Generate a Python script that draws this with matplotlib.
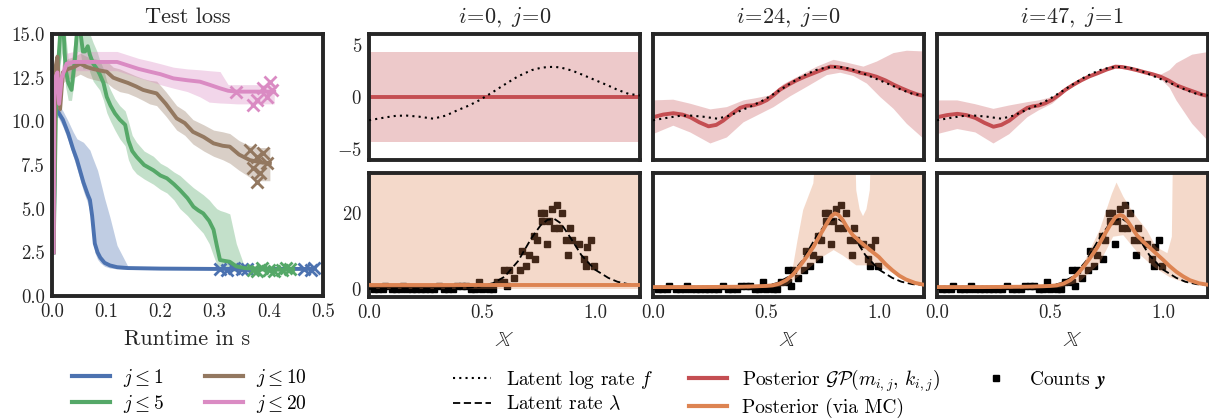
import numpy as np
import matplotlib
matplotlib.use("Agg")
import matplotlib.pyplot as plt
from matplotlib.lines import Line2D
from matplotlib.ticker import FormatStrFormatter

plt.rcParams.update({
    "font.family": "serif",
    "font.serif": ["cmr10"],
    "mathtext.fontset": "cm",
    "axes.formatter.use_mathtext": True,
    "axes.unicode_minus": True,
})

# ---------------- colours ----------------
C_BLUE, C_GREEN, C_BROWN, C_PINK = "#4C72B0", "#55A868", "#937860", "#DA8BC3"
C_RED, C_ORANGE = "#C44E52", "#DD8452"
DARK = "#262626"

# ---------------- Test loss data ----------------
blue_x = [0.003, 0.006, 0.012, 0.02, 0.03, 0.039, 0.046, 0.058, 0.066, 0.07, 0.074, 0.079, 0.084,
          0.089, 0.097, 0.107, 0.12, 0.14, 0.2, 0.3, 0.4, 0.48]
blue_y = [2.5, 10.8, 10.5, 10.1, 9.3, 8.4, 7.8, 6.5, 5.8, 5.5, 4.6, 3.0, 2.5,
          2.2, 1.9, 1.75, 1.65, 1.6, 1.57, 1.55, 1.55, 1.55]
blue_hi = [2.5, 11.2, 11.0, 10.6, 10.0, 9.4, 9.0, 8.8, 8.5, 8.35, 8.0, 7.6, 7.2,
           6.6, 5.6, 4.5, 2.9, 1.7, 1.62, 1.6, 1.6, 1.6]
blue_lo = [2.5, 10.3, 10.2, 9.7, 8.9, 8.0, 7.3, 6.0, 5.3, 4.8, 3.6, 2.5, 2.1,
           1.9, 1.7, 1.6, 1.55, 1.52, 1.5, 1.5, 1.5, 1.5]

green_x = [0.003, 0.008, 0.012, 0.016, 0.02, 0.025, 0.03, 0.036, 0.042, 0.047, 0.052, 0.057, 0.061,
           0.066, 0.07, 0.076, 0.083, 0.088, 0.095, 0.101, 0.108, 0.116, 0.125, 0.135, 0.141, 0.148,
           0.156, 0.17, 0.187, 0.2, 0.212, 0.225, 0.236, 0.25, 0.261, 0.27, 0.279, 0.29, 0.298,
           0.304, 0.31, 0.32, 0.328, 0.34, 0.355, 0.38, 0.41, 0.445]
green_y = [2.5, 12, 13.5, 15.5, 16, 13, 12.2, 11.8, 13.5, 15.5, 15.2, 14, 14.0,
           14.3, 13.8, 13.3, 13.0, 12.7, 12.2, 11.4, 10.9, 10.46, 10.1, 9.8, 8.9, 8.3,
           7.97, 7.5, 7.2, 6.9, 6.74, 6.4, 6.07, 5.6, 5.11, 4.9, 4.73, 4.3, 3.8,
           2.9, 2.06, 2.0, 1.96, 1.7, 1.6, 1.55, 1.52, 1.5]
green_hi = [2.5, 13, 15.5, 17, 17, 15, 13.5, 13.5, 15, 17, 17, 16, 15.5,
            15.5, 15, 14.5, 14.0, 13.5, 13.0, 12.3, 11.8, 11.3, 10.9, 10.6, 10.0, 9.2,
            8.8, 8.3, 8.0, 7.6, 7.4, 7.1, 6.9, 6.5, 6.2, 6.0, 5.8, 5.5, 5.2,
            5.0, 4.9, 4.8, 4.7, 3.0, 1.7, 1.65, 1.6, 1.55]
green_lo = [2.5, 11, 12, 13.5, 14, 12, 11.2, 11.2, 12.5, 14, 14, 13, 13.0,
            13.2, 12.8, 12.3, 12.0, 11.8, 11.2, 10.5, 10.0, 9.5, 9.0, 8.6, 7.8, 7.3,
            7.0, 6.7, 6.4, 6.1, 5.9, 5.5, 5.0, 4.6, 4.2, 3.9, 3.6, 3.0, 2.3,
            1.8, 1.6, 1.5, 1.45, 1.4, 1.4, 1.4, 1.4, 1.4]

brown_x = [0.003, 0.006, 0.01, 0.015, 0.02, 0.03, 0.04, 0.052, 0.065, 0.076, 0.09, 0.101, 0.113,
           0.125, 0.14, 0.155, 0.168, 0.18, 0.193, 0.21, 0.23, 0.245, 0.26, 0.28, 0.298, 0.315,
           0.328, 0.345, 0.365, 0.385, 0.402]
brown_y = [2.5, 13.0, 13.7, 10.7, 12.8, 13.0, 13.1, 13.3, 13.1, 13.0, 12.9, 12.84, 12.5,
           12.36, 12.2, 12.0, 11.8, 11.7, 11.6, 11.0, 10.17, 9.9, 9.4, 9.1, 8.74, 8.6,
           8.55, 8.1, 7.78, 7.65, 7.6]
brown_hi = [2.5, 13.6, 14.2, 11.4, 13.4, 13.6, 13.7, 13.9, 13.7, 13.6, 13.5, 13.45, 13.1,
            13.0, 12.8, 12.6, 12.45, 12.35, 12.3, 11.7, 10.9, 10.6, 10.1, 9.8, 9.5, 9.4,
            9.3, 8.9, 8.6, 8.5, 8.5]
brown_lo = [2.5, 12.4, 13.2, 10.0, 12.2, 12.4, 12.5, 12.7, 12.5, 12.4, 12.3, 12.2, 11.9,
            11.7, 11.6, 11.4, 11.2, 11.0, 10.9, 10.3, 9.5, 9.2, 8.7, 8.3, 8.0, 7.8,
            7.6, 7.2, 6.8, 6.6, 6.6]

pink_x = [0.003, 0.004, 0.006, 0.01, 0.013, 0.018, 0.027, 0.04, 0.06, 0.09, 0.12, 0.14, 0.16,
          0.181, 0.2, 0.224, 0.25, 0.273, 0.29, 0.31, 0.325, 0.341, 0.37, 0.41]
pink_y = [2.5, 11.0, 12.5, 12.8, 11.0, 12.5, 13.3, 13.4, 13.4, 13.4, 13.4, 13.2, 13.0,
          12.84, 12.7, 12.46, 12.35, 12.27, 12.1, 11.89, 11.75, 11.7, 11.7, 11.7]
pink_hi = [2.5, 11.5, 13.0, 13.5, 12.0, 13.2, 13.9, 14.0, 14.0, 14.0, 14.0, 13.8, 13.6,
           13.45, 13.3, 13.1, 13.0, 12.95, 12.9, 12.85, 12.1, 12.1, 12.1, 12.1]
pink_lo = [2.5, 10.5, 12.0, 12.2, 10.5, 12.0, 12.8, 12.9, 12.9, 12.9, 12.9, 12.7, 12.5,
           12.3, 12.1, 11.9, 11.7, 11.4, 11.1, 11.05, 11.03, 11.0, 11.0, 11.0]

blue_end_x = [0.31, 0.322, 0.335, 0.35, 0.36, 0.465, 0.478, 0.484]
blue_end_y = [1.55, 1.5, 1.58, 1.52, 1.56, 1.55, 1.5, 1.58]
green_end_x = [0.37, 0.378, 0.388, 0.40, 0.41, 0.425, 0.432, 0.44]
green_end_y = [1.5, 1.45, 1.6, 1.5, 1.45, 1.5, 1.6, 1.52]
brown_end_x = [0.365, 0.378, 0.39, 0.371, 0.384, 0.378, 0.396]
brown_end_y = [8.36, 7.97, 8.17, 7.31, 7.02, 6.54, 7.6]
pink_end_x = [0.34, 0.378, 0.371, 0.39, 0.402, 0.405, 0.396]
pink_end_y = [11.7, 11.22, 10.93, 11.89, 12.27, 11.79, 11.41]

# ---------------- GP panels data ----------------
f_x = [0, 0.04, 0.08, 0.12, 0.166, 0.22, 0.285, 0.34, 0.39, 0.44, 0.49, 0.55, 0.60, 0.66,
       0.72, 0.76, 0.79, 0.82, 0.85, 0.9, 0.94, 1.0, 1.06, 1.1, 1.15, 1.2]
f_y = [-2.25, -2.1, -1.95, -1.82, -1.8, -1.9, -2.1, -1.8, -1.3, -0.85, -0.3, 0.5, 1.2, 2.0,
       2.6, 2.82, 2.9, 2.92, 2.85, 2.55, 2.2, 1.65, 1.1, 0.7, 0.3, 0.15]
lam_y = [0.11, 0.12, 0.14, 0.16, 0.165, 0.15, 0.12, 0.165, 0.27, 0.43, 0.74, 1.65, 3.3, 7.4,
         13.5, 16.8, 18.2, 18.5, 17.3, 12.8, 9.0, 5.2, 3.0, 2.0, 1.35, 1.16]

count_x = [0.02, 0.04, 0.06, 0.07, 0.10, 0.12, 0.14, 0.15, 0.17, 0.19, 0.21, 0.23, 0.25, 0.27,
           0.29, 0.31, 0.33, 0.35, 0.37, 0.39, 0.41, 0.43, 0.45, 0.47, 0.485, 0.50, 0.53, 0.55,
           0.567, 0.596, 0.596, 0.61, 0.619, 0.641, 0.67, 0.678, 0.693, 0.708, 0.73, 0.737,
           0.745, 0.76, 0.767, 0.775, 0.789, 0.797, 0.812, 0.82, 0.831, 0.841, 0.856, 0.871,
           0.883, 0.89, 0.90, 0.93, 0.953, 0.96, 0.967, 0.982, 0.997]
count_y = [0, 0, 0, 1, 0, 0, 0, 1, 0, 0, 0, 0, 0, 0, 0, 1, 0, 0, 0, 1, 1, 1, 0, 0, 2, 0, 0, 0,
           2, 2, 5, 1, 5, 3, 5, 10, 6, 9, 14, 8, 13, 20, 18, 20, 12, 18, 21, 16, 22, 16, 20, 13,
           9, 16, 13, 12, 8, 6, 11, 13, 6]

# panel i=0, j=0
p0_x = [0.0, 1.2]
p0_mean = [0.0, 0.0]
p0_hi = [4.35, 4.35]
p0_lo = [-4.35, -4.35]
p0_mc = [1.1, 1.1]
p0_mc_hi = [60.0, 60.0]
p0_mc_lo = [0.05, 0.05]

# panel i=24, j=0
p1_x = [0, 0.045, 0.09, 0.13, 0.165, 0.205, 0.246, 0.28, 0.31, 0.35, 0.386, 0.415, 0.445, 0.475,
        0.504, 0.535, 0.563, 0.6, 0.637, 0.675, 0.71, 0.75, 0.785, 0.815, 0.844, 0.88, 0.917,
        0.955, 0.99, 1.03, 1.065, 1.1, 1.139, 1.17, 1.2]
p1_mean = [-1.96, -1.7, -1.57, -1.7, -1.96, -2.45, -2.84, -2.7, -2.3, -1.6, -1.05, -0.85, -0.8,
           -0.6, -0.3, 0.2, 0.72, 1.2, 1.63, 2.0, 2.3, 2.65, 2.94, 2.9, 2.78, 2.6, 2.35,
           2.18, 1.96, 1.6, 1.2, 0.85, 0.49, 0.25, 0.1]
p1_hi_x = [0, 0.09, 0.165, 0.254, 0.327, 0.401, 0.46, 0.519, 0.578, 0.652, 0.726, 0.8, 0.858,
           0.932, 0.991, 1.065, 1.124, 1.2]
p1_hi = [-0.33, -0.26, -0.65, -1.2, -0.98, -0.33, -0.1, 0.16, 1.24, 2.1, 2.94, 3.6, 3.33,
         2.94, 3.43, 4.25, 4.48, 4.41]
p1_lo_x = [0, 0.09, 0.165, 0.254, 0.327, 0.401, 0.46, 0.534, 0.608, 0.681, 0.77, 0.829, 0.888,
           0.947, 1.006, 1.065, 1.124, 1.2]
p1_lo = [-3.6, -2.78, -3.43, -4.5, -3.92, -2.45, -1.8, -0.98, 0.07, 0.98, 2.12, 2.35, 2.03,
         1.3, 0.0, -1.14, -2.6, -4.08]
p1_mc_x = [0, 0.2, 0.4, 0.5, 0.53, 0.56, 0.59, 0.62, 0.65, 0.68, 0.71, 0.74, 0.77, 0.79, 0.805,
           0.82, 0.84, 0.86, 0.885, 0.915, 0.945, 0.97, 1.0, 1.03, 1.06, 1.09, 1.12, 1.16, 1.2]
p1_mc = [0.6, 0.6, 0.7, 0.9, 1.05, 1.5, 2.4, 3.9, 6.1, 8.5, 11.1, 14.3, 17.3, 19.2, 19.9,
         19.6, 18.2, 16.2, 14.2, 12.6, 11.1, 9.9, 8.5, 6.6, 5.0, 3.6, 2.6, 1.7, 1.2]
p1_mc_hi_x = [0, 0.3, 0.5, 0.57, 0.6, 0.62, 0.64, 0.665, 0.71, 0.75, 0.885, 0.9, 0.915, 0.93,
              0.945, 0.96, 0.975, 1.2]
p1_mc_hi = [1.0, 1.0, 1.2, 1.6, 2.4, 6.0, 12.9, 20.8, 27.8, 60, 60, 26, 21, 19.2, 21, 26, 60, 60]
p1_mc_lo_x = [0, 0.4, 0.55, 0.59, 0.68, 0.75, 0.8, 0.84, 0.9, 0.97, 1.04, 1.12, 1.2]
p1_mc_lo = [0.1, 0.1, 0.6, 1.0, 5.0, 8.5, 10.3, 8.9, 6.3, 6.3, 5.0, 2.4, 1.0]

# panel i=47, j=1
p2_x = [0, 0.045, 0.09, 0.13, 0.17, 0.21, 0.25, 0.285, 0.32, 0.36, 0.4, 0.425, 0.45, 0.48,
        0.51, 0.54, 0.57, 0.605, 0.64, 0.675, 0.71, 0.75, 0.79, 0.82, 0.85, 0.885, 0.92,
        0.955, 0.99, 1.025, 1.06, 1.1, 1.14, 1.17, 1.2]
p2_mean = [-1.96, -1.75, -1.63, -1.75, -2.03, -2.5, -2.88, -2.7, -2.29, -1.6, -1.05, -0.9, -0.82,
           -0.6, -0.26, 0.2, 0.72, 1.2, 1.63, 2.0, 2.29, 2.65, 2.94, 2.9, 2.78, 2.6, 2.39,
           2.2, 1.96, 1.6, 1.14, 0.8, 0.49, 0.25, 0.1]
p2_band_x = [0, 0.09, 0.17, 0.25, 0.32, 0.4, 0.45, 0.51, 0.57, 0.64, 0.71, 0.79, 0.85, 0.92,
             0.99, 1.03, 1.06, 1.13, 1.2]
p2_hi = [-0.33, -0.33, -0.7, -1.15, -0.82, -0.5, -0.33, 0.0, 0.8, 1.73, 2.39, 3.04, 2.88, 2.5,
         2.15, 2.6, 3.27, 4.1, 4.35]
p2_lo = [-3.6, -3.1, -3.43, -4.5, -3.6, -1.96, -1.3, -0.65, 0.5, 1.53, 2.19, 2.84, 2.68, 2.28,
         1.75, 0.9, -0.33, -2.6, -4.25]
p2_mc_x = [0, 0.2, 0.4, 0.5, 0.53, 0.56, 0.59, 0.62, 0.65, 0.68, 0.71, 0.74, 0.77, 0.79, 0.81,
           0.825, 0.845, 0.865, 0.885, 0.915, 0.945, 0.97, 1.0, 1.03, 1.06, 1.09, 1.12, 1.16, 1.2]
p2_mc = [0.6, 0.6, 0.7, 0.9, 1.05, 1.5, 2.4, 3.9, 6.0, 8.4, 11.0, 14.2, 17.2, 18.9, 19.5,
         19.2, 17.8, 16.0, 14.2, 12.4, 10.8, 9.4, 7.8, 6.1, 4.6, 3.4, 2.4, 1.6, 1.2]
p2_mc_hi_x = [0, 0.4, 0.55, 0.634, 0.72, 0.774, 0.795, 0.825, 0.87, 0.93, 0.97, 1.02, 1.04,
              1.05, 1.2]
p2_mc_hi = [1.0, 1.0, 1.5, 5.0, 15.5, 25, 28, 24.3, 20, 15.5, 11.1, 9.5, 13.8, 60, 60]
p2_mc_lo_x = [0, 0.4, 0.55, 0.63, 0.72, 0.78, 0.825, 0.89, 0.96, 1.03, 1.1, 1.2]
p2_mc_lo = [0.1, 0.1, 0.5, 1.9, 6.8, 13.8, 14.2, 9.5, 5.9, 3.2, 1.7, 1.05]

panel_titles = [r"$i\!=\!0,\ j\!=\!0$", r"$i\!=\!24,\ j\!=\!0$", r"$i\!=\!47,\ j\!=\!1$"]

# ---------------- figure ----------------
W, H = 1209, 420
fig = plt.figure(figsize=(W / 100, H / 100), dpi=100)

def fx(px):
    return px / W

def fy(py):
    return 1 - py / H

TICK_FS = 13.5
SPINE_LW = 2.8

def style(ax):
    for s in ax.spines.values():
        s.set_linewidth(SPINE_LW)
        s.set_color(DARK)
    ax.tick_params(length=0, pad=5, labelsize=TICK_FS, colors=DARK)

# Test loss panel
axL = fig.add_axes([fx(52), fy(296), fx(323) - fx(52), fy(34) - fy(296)])
style(axL)
for xs, ys, lo, hi, ex, ey, c in [
    (blue_x, blue_y, blue_lo, blue_hi, blue_end_x, blue_end_y, C_BLUE),
    (green_x, green_y, green_lo, green_hi, green_end_x, green_end_y, C_GREEN),
    (brown_x, brown_y, brown_lo, brown_hi, brown_end_x, brown_end_y, C_BROWN),
    (pink_x, pink_y, pink_lo, pink_hi, pink_end_x, pink_end_y, C_PINK),
]:
    axL.fill_between(xs, lo, hi, color=c, alpha=0.35, lw=0)
    axL.plot(xs, ys, color=c, lw=2.8)
    axL.plot(ex, ey, ls="none", marker="x", ms=9, mew=2, color=c)
axL.set_xlim(0, 0.5)
axL.set_ylim(0, 15)
axL.set_xticks([0, 0.1, 0.2, 0.3, 0.4, 0.5])
axL.set_yticks([0, 2.5, 5, 7.5, 10, 12.5, 15])
axL.xaxis.set_major_formatter(FormatStrFormatter("%.1f"))
axL.yaxis.set_major_formatter(FormatStrFormatter("%.1f"))
axL.set_title("Test loss", fontsize=16, pad=8, color=DARK)
axL.set_xlabel("Runtime in s", fontsize=16, labelpad=6, color=DARK)

col_left = [369, 653, 937]
col_w = 271
panels = [
    dict(mx=p0_x, m=p0_mean, hx=p0_x, hi=p0_hi, lx=p0_x, lo=p0_lo,
         ox=p0_x, o=p0_mc, ohx=p0_x, ohi=p0_mc_hi, olx=p0_x, olo=p0_mc_lo),
    dict(mx=p1_x, m=p1_mean, hx=p1_hi_x, hi=p1_hi, lx=p1_lo_x, lo=p1_lo,
         ox=p1_mc_x, o=p1_mc, ohx=p1_mc_hi_x, ohi=p1_mc_hi, olx=p1_mc_lo_x, olo=p1_mc_lo),
    dict(mx=p2_x, m=p2_mean, hx=p2_band_x, hi=p2_hi, lx=p2_band_x, lo=p2_lo,
         ox=p2_mc_x, o=p2_mc, ohx=p2_mc_hi_x, ohi=p2_mc_hi, olx=p2_mc_lo_x, olo=p2_mc_lo),
]

for k, (left, P) in enumerate(zip(col_left, panels)):
    axT = fig.add_axes([fx(left), fy(160), col_w / W, fy(34) - fy(160)])
    axB = fig.add_axes([fx(left), fy(297), col_w / W, fy(173) - fy(297)])
    style(axT)
    style(axB)
    # top: latent GP
    axT.fill(list(P["hx"]) + list(P["lx"])[::-1], list(P["hi"]) + list(P["lo"])[::-1],
             color=C_RED, alpha=0.3, lw=0, zorder=1)
    axT.plot(P["mx"], P["m"], color=C_RED, lw=2.8, zorder=2)
    axT.plot(f_x, f_y, color="black", ls=(0, (1, 2)), lw=1.5, zorder=3)
    axT.set_xlim(0, 1.2)
    axT.set_ylim(-6.1, 6.1)
    axT.set_yticks([-5, 0, 5])
    axT.set_xticks([0, 0.5, 1.0])
    axT.set_xticklabels([])
    axT.set_title(panel_titles[k], fontsize=16, pad=8, color=DARK)
    # bottom: counts
    axB.plot(count_x, count_y, ls="none", marker="s", ms=4.0, color="black", zorder=1)
    axB.fill(list(P["ohx"]) + list(P["olx"])[::-1], list(P["ohi"]) + list(P["olo"])[::-1],
             color=C_ORANGE, alpha=0.3, lw=0, zorder=2)
    axB.plot(f_x, lam_y, color="black", ls=(0, (4, 2)), lw=1.3, zorder=3)
    axB.plot(P["ox"], P["o"], color=C_ORANGE, lw=2.8, zorder=4)
    axB.set_xlim(0, 1.2)
    axB.set_ylim(-2, 30.5)
    axB.set_yticks([0, 20])
    axB.set_xticks([0, 0.5, 1.0])
    axB.xaxis.set_major_formatter(FormatStrFormatter("%.1f"))
    axB.set_xlabel(r"$\mathbb{X}$", fontsize=16, labelpad=6, color=DARK)
    if k > 0:
        axT.set_yticklabels([])
        axB.set_yticklabels([])

# ---------------- legends ----------------
LEG_FS = 14
h_loss = [Line2D([], [], color=c, lw=3) for c in (C_BLUE, C_GREEN, C_BROWN, C_PINK)]
l_loss = [r"$j \leq 1$", r"$j \leq 5$", r"$j \leq 10$", r"$j \leq 20$"]
fig.legend(h_loss, l_loss, loc="upper left", bbox_to_anchor=(fx(72), fy(367)), ncol=2,
           frameon=False, fontsize=LEG_FS, borderaxespad=0, borderpad=0,
           handlelength=1.95, handletextpad=0.67, columnspacing=2.1, labelspacing=0.2)

h_gp = [Line2D([], [], color="black", ls=(0, (1, 2)), lw=1.5),
        Line2D([], [], color="black", ls=(0, (4, 2)), lw=1.3),
        Line2D([], [], color=C_RED, lw=3),
        Line2D([], [], color=C_ORANGE, lw=3),
        Line2D([], [], color="black", ls="none", marker="s", ms=4.0)]
l_gp = [r"Latent log rate $f$", r"Latent rate $\lambda$",
        r"Posterior $\mathcal{GP}(m_{i,j},\, k_{i,j})$", "Posterior (via MC)",
        r"Counts $\boldsymbol{y}$"]
fig.legend(h_gp, l_gp, loc="upper left", bbox_to_anchor=(fx(453), fy(367)), ncol=3,
           frameon=False, fontsize=LEG_FS, borderaxespad=0, borderpad=0,
           handlelength=1.95, handletextpad=0.75, columnspacing=1.9, labelspacing=0.2)

fig.savefig("out.png", dpi=100)
